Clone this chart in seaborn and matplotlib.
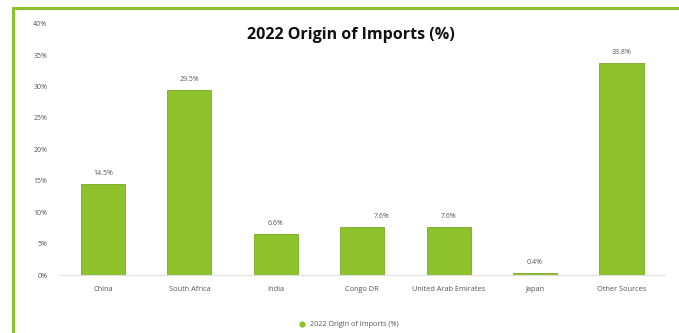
import matplotlib
matplotlib.use("Agg")
import matplotlib.pyplot as plt
import seaborn as sns
import pandas as pd
from matplotlib.lines import Line2D

categories = ["China", "South Africa", "India", "Congo DR", "United Arab Emirates", "Japan", "Other Sources"]
values = [14.5, 29.5, 6.6, 7.6, 7.6, 0.4, 33.8]
yticks = [0, 5, 10, 15, 20, 25, 30, 35, 40]
series_name = "2022 Origin of Imports (%)"

sns.set_theme(style="white")
plt.rcParams['font.family'] = ['Open Sans', 'DejaVu Sans']

df = pd.DataFrame({"Country": categories, "Value": values})

fig = plt.figure(figsize=(6.79, 3.33), dpi=100)
ax = fig.add_axes([0.088, 0.174, 0.891, 0.755])

green = "#8dc22d"
sns.barplot(data=df, x="Country", y="Value", color=green, width=0.51,
            edgecolor="#7aa828", linewidth=0.6, saturation=1, ax=ax)

ax.set_ylim(0, 40)
ax.set_yticks(yticks)
ax.set_yticklabels([f"{t}%" for t in yticks], fontsize=5, color="#555555")
ax.tick_params(axis='x', labelsize=5.3, colors="#555555", length=0, pad=8)
ax.tick_params(axis='y', length=0, pad=9)
ax.set_xlabel("")
ax.set_ylabel("")
for s in ["top", "right", "left"]:
    ax.spines[s].set_visible(False)
ax.spines["bottom"].set_color("#e0e0e0")
ax.spines["bottom"].set_linewidth(0.8)
ax.set_xlim(-0.5, len(categories) - 0.5)

for i, v in enumerate(values):
    dx = 0.22 if categories[i] == "Congo DR" else 0
    ax.text(i + dx, v + 1.1, f"{v:.1f}%", ha="center", va="bottom", fontsize=5, color="#555555")

fig.text(0.517, 0.895, "2022 Origin of Imports (%)", ha="center", va="center",
         fontsize=11.5, fontweight="bold", color="#111111")

handle = Line2D([], [], marker="o", linestyle="", color=green, markersize=3.5)
fig.legend([handle], [series_name], loc="center", bbox_to_anchor=(0.51, 0.025),
           frameon=False, fontsize=5.2, handletextpad=0.1, labelcolor="#555555")

# green frame
fig.add_artist(Line2D([0.019, 0.019], [0.0, 0.976], color="#8dc22d", linewidth=2.2, transform=fig.transFigure))
fig.add_artist(Line2D([0.019, 1.0], [0.976, 0.976], color="#8dc22d", linewidth=2.2, transform=fig.transFigure))

fig.savefig("out.png", dpi=100, facecolor="white")
